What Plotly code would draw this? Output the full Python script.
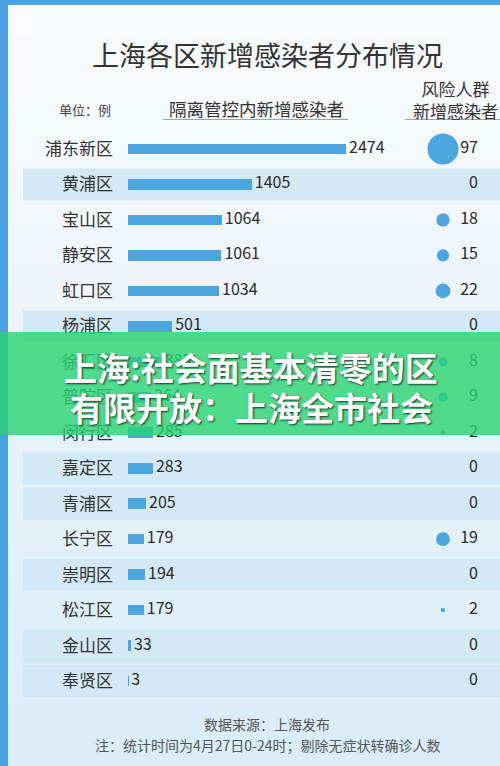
import plotly.graph_objects as go

# ---------------- data ----------------
districts = ["浦东新区", "黄浦区", "宝山区", "静安区", "虹口区", "杨浦区", "徐汇区", "普陀区",
             "闵行区", "嘉定区", "青浦区", "长宁区", "崇明区", "松江区", "金山区", "奉贤区"]
controlled_cases = [2474, 1405, 1064, 1061, 1034, 501, 383, 264,
                    285, 283, 205, 179, 194, 179, 33, 3]
risk_group_cases = [97, 0, 18, 15, 22, 0, 8, 9,
                    2, 0, 0, 19, 0, 2, 0, 0]
banded_rows = [1, 5, 9, 10, 12, 14, 15]

title_text = "上海各区新增感染者分布情况"
unit_text = "单位：例"
col1_text = "隔离管控内新增感染者"
col2_text = "风险人群<br>新增感染者"
banner_lines = ["上海:社会面基本清零的区", "有限开放：上海全市社会"]
source_text = "数据来源：上海发布"
note_text = "注：统计时间为4月27日0-24时；剔除无症状转确诊人数"

# ---------------- layout constants ----------------
W, H = 500, 766
FONT = "Noto Sans CJK SC"
BLUE = "#4ba6df"
ROW0_PX, ROW_STEP = 149.0, 35.47
BAR_LEFT_PX = 128.0
PX_PER_UNIT = 218.0 / 2474.0
XMAX = (W - BAR_LEFT_PX) / PX_PER_UNIT
BUBBLE_X = (443 - BAR_LEFT_PX) / PX_PER_UNIT
RVAL_X = (478 - BAR_LEFT_PX) / PX_PER_UNIT
LABEL_GAP = 3 / PX_PER_UNIT

def py(p):
    return 1 - p / H

def px(p):
    return p / W

n = len(districts)
idx = list(range(n))

fig = go.Figure()

fig.add_trace(go.Bar(
    x=controlled_cases, y=idx, orientation="h", width=0.3,
    marker=dict(color=BLUE, line=dict(width=0)),
    hoverinfo="skip", showlegend=False,
))

fig.add_trace(go.Scatter(
    x=[v + LABEL_GAP for v in controlled_cases], y=idx, mode="text",
    text=[str(v) for v in controlled_cases],
    textposition="middle right", textfont=dict(family=FONT, size=16, color="#2a2a2a"),
    hoverinfo="skip", showlegend=False, cliponaxis=False,
))

nz = [i for i in idx if risk_group_cases[i] > 0]
max_r = max(risk_group_cases)
fig.add_trace(go.Scatter(
    x=[BUBBLE_X] * len(nz), y=nz, mode="markers",
    marker=dict(size=[risk_group_cases[i] for i in nz], sizemode="area",
                sizeref=2.0 * max_r / (31 ** 2), color=BLUE, opacity=1,
                line=dict(width=0)),
    hoverinfo="skip", showlegend=False, cliponaxis=False,
))

fig.add_trace(go.Scatter(
    x=[RVAL_X] * n, y=idx, mode="text", text=[str(v) for v in risk_group_cases],
    textposition="middle left", textfont=dict(family=FONT, size=16, color="#2a2a2a"),
    hoverinfo="skip", showlegend=False, cliponaxis=False,
))

shapes = []
# light panel gradient over the blue frame
steps = 24
top_c = (250, 252, 254)
bot_c = (218, 237, 248)
y_start = 5
for s in range(steps):
    t = s / (steps - 1)
    c = tuple(int(top_c[k] + (bot_c[k] - top_c[k]) * t) for k in range(3))
    y0p = y_start + (H - y_start) * s / steps
    y1p = y_start + (H - y_start) * (s + 1) / steps + 1
    shapes.append(dict(type="rect", xref="paper", yref="paper", x0=px(8), x1=1,
                       y0=py(min(y1p, H)), y1=py(y0p),
                       fillcolor="rgb(%d,%d,%d)" % c, line=dict(width=0), layer="below"))
# row bands
for r in banded_rows:
    shapes.append(dict(type="rect", xref="paper", yref="y", x0=px(23), x1=1,
                       y0=r - 0.45, y1=r + 0.45, fillcolor="#d3e9f6",
                       line=dict(width=0), layer="below"))
# header underlines
shapes.append(dict(type="line", xref="paper", yref="paper", x0=px(163), x1=px(348),
                   y0=py(119.5), y1=py(119.5), line=dict(color="#9aa4ab", width=1)))
shapes.append(dict(type="line", xref="paper", yref="paper", x0=px(405), x1=1,
                   y0=py(119.5), y1=py(119.5), line=dict(color="#9aa4ab", width=1)))
# green overlay banner
shapes.append(dict(type="rect", xref="paper", yref="paper", x0=0, x1=1,
                   y0=py(435), y1=py(332), fillcolor="rgba(40,211,112,0.8)",
                   line=dict(width=0), layer="above"))

annotations = [
    dict(text=title_text, x=px(267), y=py(55), xref="paper", yref="paper", showarrow=False,
         font=dict(family=FONT, size=27, color="#333333"), xanchor="center", yanchor="middle"),
    dict(text=unit_text, x=px(57), y=py(110), xref="paper", yref="paper", showarrow=False,
         font=dict(family=FONT, size=13, color="#444444"), xanchor="left", yanchor="middle"),
    dict(text=col1_text, x=px(256), y=py(109), xref="paper", yref="paper", showarrow=False,
         font=dict(family=FONT, size=17.5, color="#333333"), xanchor="center", yanchor="middle"),
    dict(text=col2_text, x=px(455), y=py(99), xref="paper", yref="paper", showarrow=False,
         font=dict(family=FONT, size=17, color="#333333"), xanchor="center", yanchor="middle"),
    dict(text=source_text, x=px(267), y=py(724), xref="paper", yref="paper", showarrow=False,
         font=dict(family=FONT, size=14, color="#555555"), xanchor="center", yanchor="middle"),
    dict(text=note_text, x=px(267), y=py(745), xref="paper", yref="paper", showarrow=False,
         font=dict(family=FONT, size=14, color="#555555"), xanchor="center", yanchor="middle"),
]
for line, yy in zip(banner_lines, [367, 407]):
    annotations.append(dict(
        text="<b>%s</b>" % line, x=px(251), y=py(yy), xref="paper", yref="paper",
        showarrow=False, xanchor="center", yanchor="middle",
        font=dict(family=FONT, size=33, color="white",
                  shadow="1px 1px 2px rgba(0,0,0,0.75)"),
    ))

fig.update_layout(
    width=W, height=H, margin=dict(l=0, r=0, t=0, b=0),
    paper_bgcolor="#4aa3e0", plot_bgcolor="rgba(0,0,0,0)",
    xaxis=dict(domain=[BAR_LEFT_PX / W, 1], range=[0, XMAX], visible=False, fixedrange=True),
    yaxis=dict(domain=[0, 1], range=[(H - ROW0_PX) / ROW_STEP, -ROW0_PX / ROW_STEP],
               tickvals=idx, ticktext=districts, ticks="", showgrid=False, zeroline=False,
               showline=False, ticklabelstandoff=14,
               tickfont=dict(family=FONT, size=17, color="#333333"), fixedrange=True),
    shapes=shapes, annotations=annotations, showlegend=False, bargap=0,
)

fig.write_html("out.html", config={"displayModeBar": False},
               post_script="document.body.style.margin='0';document.body.style.overflow='hidden';")
